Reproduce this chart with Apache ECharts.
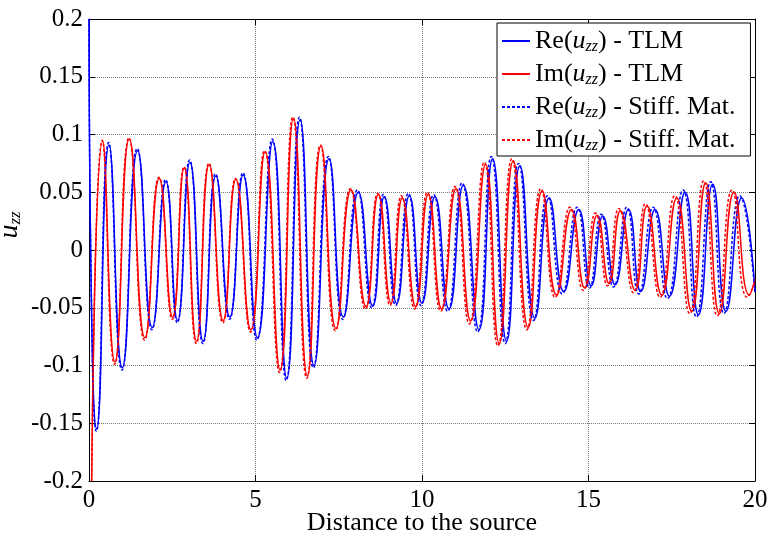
<!DOCTYPE html>
<html>
<head>
<meta charset="utf-8">
<script src="https://cdn.jsdelivr.net/npm/echarts@6/dist/echarts.min.js"></script>
<style>
  html, body { margin: 0; padding: 0; background: #fff; }
  #chart { width: 768px; height: 538px; }
</style>
</head>
<body>
<div id="chart"></div>
<script>
// Axis ranges and tick spacing
const xRange = [0, 20];
const xStep = 5;
const yRange = [-0.2, 0.2];
const yStep = 0.05;

// Legend entries: [part before u, part after subscript]
const legendParts = [
  ['Re(', ') - TLM'],
  ['Im(', ') - TLM'],
  ['Re(', ') - Stiff. Mat.'],
  ['Im(', ') - Stiff. Mat.']
];
const seriesNames = ['Re - TLM', 'Im - TLM', 'Re - Stiff. Mat.', 'Im - Stiff. Mat.'];

// Re(u_zz), TLM: extrema along the distance axis [distance, value]
const reTLM = [
  [0, 0.2], [0.07, -0.04], [0.23, -0.155], [0.60, 0.091], [1.00, -0.102], [1.46, 0.086],
  [1.90, -0.067], [2.31, 0.059], [2.66, -0.061], [3.03, 0.076], [3.43, -0.079],
  [3.81, 0.064], [4.23, -0.058], [4.63, 0.065], [5.06, -0.076], [5.52, 0.094],
  [5.94, -0.111], [6.34, 0.113], [6.76, -0.100], [7.21, 0.079], [7.64, -0.058],
  [8.09, 0.050], [8.52, -0.0485], [8.87, 0.046], [9.24, -0.046], [9.62, 0.047],
  [10.00, -0.046], [10.39, 0.046], [10.81, -0.051], [11.24, 0.056], [11.71, -0.069],
  [12.12, 0.079], [12.54, -0.079], [12.94, 0.073], [13.39, -0.059], [13.82, 0.045],
  [14.26, -0.036], [14.71, 0.035], [15.08, -0.031], [15.43, 0.0295], [15.80, -0.030],
  [16.20, 0.035], [16.57, -0.036], [17.00, 0.035], [17.43, -0.040], [17.90, 0.050],
  [18.30, -0.056], [18.73, 0.057], [19.13, -0.053], [19.60, 0.045], [20.00, -0.035]
];

// Im(u_zz), TLM
const imTLM = [
  [0.08, -0.2], [0.41, 0.094], [0.78, -0.097], [1.21, 0.096], [1.68, -0.076],
  [2.11, 0.062], [2.51, -0.058], [2.86, 0.071], [3.23, -0.079], [3.61, 0.074],
  [4.03, -0.061], [4.41, 0.061], [4.86, -0.069], [5.29, 0.085], [5.74, -0.104],
  [6.14, 0.114], [6.56, -0.109], [6.97, 0.090], [7.42, -0.068], [7.87, 0.052],
  [8.32, -0.049], [8.69, 0.048], [9.07, -0.046], [9.41, 0.045], [9.81, -0.049],
  [10.19, 0.048], [10.59, -0.051], [11.02, 0.053], [11.46, -0.0615], [11.91, 0.074],
  [12.32, -0.081], [12.74, 0.077], [13.19, -0.067], [13.61, 0.051], [14.04, -0.039],
  [14.49, 0.035], [14.89, -0.033], [15.26, 0.030], [15.62, -0.029], [15.96, 0.034],
  [16.40, -0.035], [16.76, 0.038], [17.20, -0.039], [17.65, 0.045], [18.10, -0.053],
  [18.52, 0.058], [18.93, -0.055], [19.37, 0.050], [19.83, -0.039], [20.00, -0.025]
];

// Re(u_zz), stiffness matrix solution
const reStiff = [
  [0, 0.2], [0.07, -0.04], [0.22, -0.157], [0.59, 0.093], [0.99, -0.104], [1.45, 0.088],
  [1.89, -0.069], [2.30, 0.061], [2.65, -0.063], [3.02, 0.078], [3.42, -0.081],
  [3.80, 0.066], [4.22, -0.060], [4.62, 0.067], [5.04, -0.078], [5.50, 0.096],
  [5.92, -0.113], [6.32, 0.115], [6.74, -0.102], [7.19, 0.081], [7.62, -0.060],
  [8.06, 0.052], [8.49, -0.050], [8.84, 0.048], [9.21, -0.048], [9.59, 0.049],
  [9.97, -0.048], [10.35, 0.048], [10.77, -0.053], [11.20, 0.058], [11.67, -0.071],
  [12.08, 0.081], [12.50, -0.081], [12.90, 0.075], [13.35, -0.061], [13.77, 0.047],
  [14.21, -0.038], [14.66, 0.037], [15.03, -0.033], [15.38, 0.031], [15.75, -0.032],
  [16.15, 0.037], [16.51, -0.038], [16.94, 0.037], [17.37, -0.042], [17.84, 0.052],
  [18.24, -0.058], [18.67, 0.059], [19.07, -0.055], [19.54, 0.047], [20.00, -0.038]
];

// Im(u_zz), stiffness matrix solution
const imStiff = [
  [0.08, -0.2], [0.40, 0.095], [0.77, -0.099], [1.20, 0.097], [1.67, -0.078],
  [2.10, 0.063], [2.50, -0.060], [2.85, 0.072], [3.22, -0.081], [3.60, 0.075],
  [4.02, -0.063], [4.40, 0.062], [4.85, -0.071], [5.27, 0.086], [5.72, -0.106],
  [6.12, 0.115], [6.54, -0.111], [6.95, 0.091], [7.40, -0.070], [7.85, 0.053],
  [8.30, -0.051], [8.67, 0.049], [9.04, -0.048], [9.38, 0.047], [9.78, -0.051],
  [10.16, 0.050], [10.56, -0.053], [10.99, 0.055], [11.42, -0.064], [11.87, 0.076],
  [12.28, -0.083], [12.70, 0.079], [13.15, -0.069], [13.57, 0.053], [14.00, -0.041],
  [14.44, 0.037], [14.84, -0.035], [15.21, 0.032], [15.57, -0.031], [15.91, 0.036],
  [16.35, -0.037], [16.71, 0.040], [17.15, -0.041], [17.59, 0.047], [18.04, -0.055],
  [18.46, 0.060], [18.87, -0.057], [19.31, 0.052], [19.77, -0.041], [20.00, -0.028]
];

const FONT = '"Liberation Serif", "Times New Roman", serif';
const BLUE = '#0000ff';
const RED = '#ff0000';

const chart = echarts.init(document.getElementById('chart'), null, { renderer: 'canvas' });

function lineSeries(name, data, color, dashed) {
  return {
    name: name,
    type: 'line',
    data: data,
    smooth: 0.55,
    symbol: 'none',
    clip: true,
    lineStyle: { color: color, width: 1.5, type: dashed ? [3, 2] : 'solid' },
    itemStyle: { color: color },
    emphasis: { disabled: true },
    z: dashed ? 3 : 2
  };
}

const boxAxisCommon = {
  axisLine: { show: true, onZero: false, lineStyle: { color: '#000', width: 1 } },
  axisTick: { show: true, inside: true, length: 6, lineStyle: { color: '#000' } },
  splitLine: { show: false },
  axisLabel: { show: false }
};

const option = {
  animation: false,
  backgroundColor: '#fff',
  grid: { left: 89, right: 13, top: 19, bottom: 57, containLabel: false, outerBoundsMode: 'none' },
  legend: {
    data: seriesNames,
    orient: 'vertical',
    left: 497,
    top: 23,
    padding: [4, 15, 2, 4],
    itemGap: 5,
    itemWidth: 28,
    itemHeight: 14,
    backgroundColor: '#fff',
    borderColor: '#000',
    borderWidth: 1,
    borderRadius: 0,
    selectedMode: false,
    itemStyle: { opacity: 0 },
    formatter: function (name) {
      const p = legendParts[seriesNames.indexOf(name)];
      return '{n|' + p[0] + '}{u|u}{s|zz}{n|' + p[1] + '}';
    },
    textStyle: {
      fontFamily: FONT,
      color: '#000',
      rich: {
        n: { fontFamily: FONT, fontSize: 26, color: '#000', lineHeight: 26 },
        u: { fontFamily: FONT, fontSize: 26, fontStyle: 'italic', color: '#000', lineHeight: 26 },
        s: { fontFamily: FONT, fontSize: 16, fontStyle: 'italic', color: '#000', lineHeight: 26, padding: [12, 0, 0, 0] }
      }
    }
  },
  xAxis: [
    {
      type: 'value',
      min: xRange[0],
      max: xRange[1],
      interval: xStep,
      position: 'bottom',
      name: 'Distance to the source',
      nameLocation: 'middle',
      nameGap: 29,
      nameMoveOverlap: false,
      nameTextStyle: { fontFamily: FONT, fontSize: 26, color: '#000' },
      axisLine: { show: true, onZero: false, lineStyle: { color: '#000', width: 1 } },
      axisTick: { show: true, inside: true, length: 6, lineStyle: { color: '#000' } },
      axisLabel: { fontFamily: FONT, fontSize: 25, color: '#000', margin: 7 },
      splitLine: { show: true, lineStyle: { color: '#7a7a7a', width: 1, type: [1, 1] } }
    },
    Object.assign({
      type: 'value', min: xRange[0], max: xRange[1], interval: xStep, position: 'top'
    }, boxAxisCommon)
  ],
  yAxis: [
    {
      type: 'value',
      min: yRange[0],
      max: yRange[1],
      interval: yStep,
      position: 'left',
      name: '{u|u}{s|zz}',
      nameLocation: 'middle',
      nameGap: 64,
      nameMoveOverlap: false,
      nameRotate: 90,
      nameTextStyle: {
        color: '#000',
        padding: [0, 0, 0, 50],
        rich: {
          u: { fontFamily: FONT, fontSize: 28, fontStyle: 'italic', color: '#000', lineHeight: 30 },
          s: { fontFamily: FONT, fontSize: 17, fontStyle: 'italic', color: '#000', lineHeight: 30, padding: [12, 0, 0, 0] }
        }
      },
      axisLine: { show: true, onZero: false, lineStyle: { color: '#000', width: 1 } },
      axisTick: { show: true, inside: true, length: 6, lineStyle: { color: '#000' } },
      axisLabel: { fontFamily: FONT, fontSize: 25, color: '#000', margin: 6 },
      splitLine: { show: true, lineStyle: { color: '#7a7a7a', width: 1, type: [1, 1] } }
    },
    Object.assign({
      type: 'value', min: yRange[0], max: yRange[1], interval: yStep, position: 'right'
    }, boxAxisCommon)
  ],
  series: [
    lineSeries(seriesNames[0], reTLM, BLUE, false),
    lineSeries(seriesNames[1], imTLM, RED, false),
    lineSeries(seriesNames[2], reStiff, BLUE, true),
    lineSeries(seriesNames[3], imStiff, RED, true)
  ]
};

chart.setOption(option);
</script>
</body>
</html>
